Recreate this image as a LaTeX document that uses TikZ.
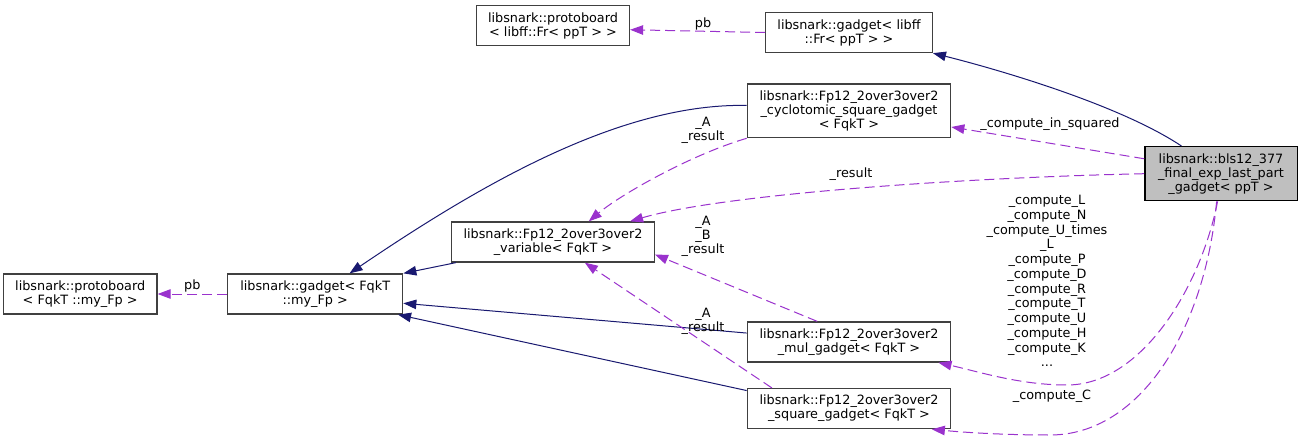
\documentclass[tikz,border=0pt]{standalone}
\usepackage{fontspec}
\setmainfont{DejaVu Sans}
\usetikzlibrary{arrows.meta,positioning}
\definecolor{edgeNavy}{HTML}{191970}
\definecolor{edgePurple}{HTML}{9A32CD}
\definecolor{boxGray}{HTML}{404040}
\definecolor{focusGray}{HTML}{BFBFBF}

\begin{document}
\begin{tikzpicture}[
  x=1pt,y=-1pt,
  cls/.style={draw=boxGray,fill=white,line width=1.3pt,align=center,inner sep=0pt,minimum height=40pt,font=\fontsize{12.8}{14}\selectfont},
  focus/.style={cls,draw=black,fill=focusGray},
  inherit/.style={-{Triangle[length=13pt,width=9.5pt]},draw=edgeNavy,line width=1pt},
  usage/.style={-{Triangle[length=13pt,width=9.5pt]},draw=edgePurple,line width=1pt,dash pattern=on 10pt off 5pt},
  lbl/.style={inner sep=0pt,align=center,font=\fontsize{12.8}{14}\selectfont}
]
\fill[white] (0,0) rectangle (1303,441);
\useasboundingbox (0,0) rectangle (1303,441);
% class boxes
\node[cls,minimum width=153pt] (pbfr) at (553,25.7) {libsnark::protoboard\\< libff::Fr< ppT > >};
\node[cls,minimum width=166.6pt] (gfr) at (849,32.5) {libsnark::gadget< libff\\::Fr< ppT > >};
\node[cls,minimum width=203.4pt,minimum height=53.7pt] (cyc) at (849,110.8) {libsnark::Fp12\_2over3over2\\\_cyclotomic\_square\_gadget\\< FqkT >};
\node[focus,minimum width=152.3pt,minimum height=54pt] (bls) at (1221,173.7) {libsnark::bls12\_377\\\_final\_exp\_last\_part\\\_gadget< ppT >};
\node[cls,minimum width=202.6pt] (var) at (553,242) {libsnark::Fp12\_2over3over2\\\_variable< FqkT >};
\node[cls,minimum width=203.4pt] (mul) at (849,342) {libsnark::Fp12\_2over3over2\\\_mul\_gadget< FqkT >};
\node[cls,minimum width=203.4pt,below=25.3pt of mul] (sq) {libsnark::Fp12\_2over3over2\\\_square\_gadget< FqkT >};
\node[cls,minimum width=175pt] (gfq) at (315.2,294) {libsnark::gadget< FqkT\\::my\_Fp >};
\node[cls,minimum width=153.6pt,left=69.4pt of gfq] (pbfq) {libsnark::protoboard\\< FqkT ::my\_Fp >};
% inheritance
\draw[inherit] (bls.145) .. controls (1120,105) and (1000,70) .. (gfr.south east);
\draw[inherit] (cyc.177) .. controls (620,103) and (480,185) .. (gfq.31);
\draw[inherit] (var.192) -- (gfq.north east);
\draw[inherit] (mul.175) -- (gfq.-6);
\draw[inherit] (sq.170) -- (gfq.-14);
% usage
\draw[usage] (gfr.west) -- node[lbl,above=1pt,pos=0.46] (lpbfr) {pb} (pbfr.-3);
\draw[usage] (gfq.west) -- node[lbl,above=1pt] (lpbfq) {pb} (pbfq.east);
\draw[usage] (cyc.south west) .. controls (690,155) and (620,195) .. (var.30);
\draw[usage] (bls.west) .. controls (950,178) and (720,195) .. (var.15);
\draw[usage] (mul.147) -- (var.-7);
\draw[usage] (sq.165) -- (var.-33);
\draw[usage] (bls.169) -- (cyc.-9);
\draw[usage] (bls.-97) .. controls (1200,290) and (1140,385) .. (1067,385) .. controls (1020,385) and (980,372) .. (mul.-13);
\draw[usage] (bls.-99) .. controls (1205,330) and (1140,435) .. (1050,435) .. controls (1000,435) and (960,432) .. (sq.-14);
% edge labels
\node[lbl] (lcyc) at (703,130) {\_A\\\_result};
\node[lbl] (lres) at (851,174) {\_result};
\node[lbl] (lmul) at (703,236) {\_A\\\_B\\\_result};
\node[lbl] (lsq) at (703,321) {\_A\\\_result};
\node[lbl] (lsqd) at (1050,124) {\_compute\_in\_squared};
\node[lbl,font=\fontsize{12.8}{14.75}\selectfont] (lcomp) at (1047,281) {\_compute\_L\\\_compute\_N\\\_compute\_U\_times\\\_L\\\_compute\_P\\\_compute\_D\\\_compute\_R\\\_compute\_T\\\_compute\_U\\\_compute\_H\\\_compute\_K\\...};
\node[lbl] (lcompc) at (1052,396) {\_compute\_C};
\end{tikzpicture}
\end{document}
